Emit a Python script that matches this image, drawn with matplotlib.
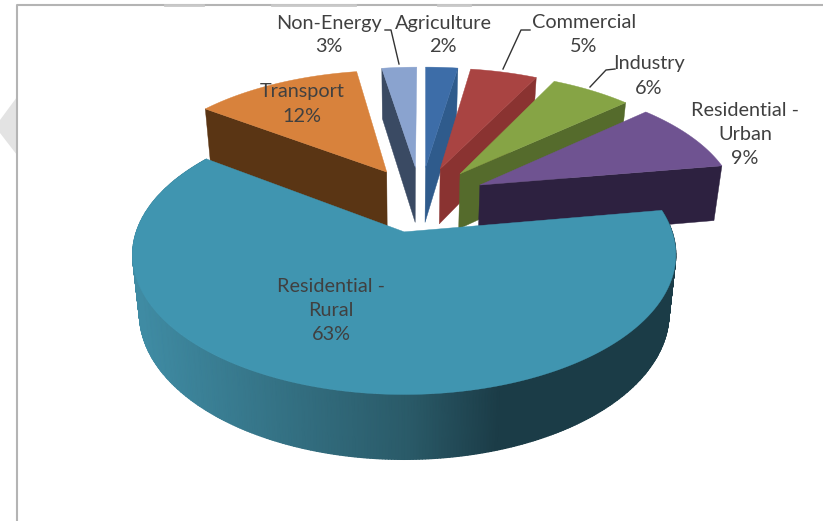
import numpy as np
import matplotlib
matplotlib.use('Agg')
import matplotlib.pyplot as plt
from matplotlib.colors import LinearSegmentedColormap

plt.rcParams['font.family'] = ['Lato', 'DejaVu Sans']

# Data, clockwise from 12 o'clock. Labels show them rounded
categories = ['Agriculture', 'Commercial', 'Industry', 'Residential -\nUrban',
              'Residential -\nRural', 'Transport', 'Non-Energy']
shares = [2.4, 5, 6, 9, 62.6, 12.4, 2.6]

top_colors = ['#3d6da8', '#a94442', '#86a445', '#6f5391', '#4095b0', '#d8823c', '#8aa3cf']
side_colors = ['#2f5b8c', '#8a3331', '#556b2c', '#2d2140', '#2a5a68', '#5a3514', '#3a4a63']
rim_colors = ['#3f8ba3', '#2a5a68', '#1b3c47']

# Label centres, pixels
label_x = [443, 584, 649, 745, 331, 302, 329]
label_y = [35, 35, 76, 134, 310, 104, 35]

# Leader lines
leaders = [
    ([385, 391, 399], [30, 30, 64]),
    ([530, 521, 503], [30, 30, 69]),
    ([615, 606, 590], [69, 70, 87]),
]

# Perspective set up, fitted by eye
CX, CY = 405, 232
A, B, K = 268, 136, 0.164
PIE_CENTRE = np.array([0.057, 0.254])
EXPLODE = 0.26
SHEAR = 0.025
RURAL = 4


def project(x, y, shear=0.0):
    s = 1 / (1 + K * y)
    py = CY - B * y * s
    return CX + A * x * s + shear * (CY - py), py


def drop(px, py):
    # where a point on the top face lands on the bottom face
    return CX + (px - CX) * 0.975, py + 52 + 0.045 * (py - 105)


def wedge(start, end, shear, n=400):
    # start, end in percent clockwise from the top
    a0, a1 = np.radians(start * 3.6), np.radians(end * 3.6)
    mid = (a0 + a1) / 2
    tip = PIE_CENTRE + EXPLODE * np.array([np.sin(mid), np.cos(mid)])
    t = np.linspace(a0, a1, n)
    arc_x, arc_y = project(tip[0] + np.sin(t), tip[1] + np.cos(t), shear)
    tx, ty = project(tip[0], tip[1], shear)
    return tx, ty, arc_x, arc_y


def side_face(x0, y0, x1, y1, color):
    bx0, by0 = drop(x0, y0)
    bx1, by1 = drop(x1, y1)
    ax.fill([x0, x1, bx1, bx0], [y0, y1, by1, by0], color=color, lw=0.3)


fig = plt.figure(figsize=(8.23, 5.21), dpi=100)
ax = fig.add_axes([0, 0, 1, 1])
ax.set_xlim(0, 823)
ax.set_ylim(521, 0)
ax.axis('off')

# Background bits: grey mark on the left and the chart frame
ax.fill([0, 17, 17, 0], [120, 97, 155, 133], color='#e3e3e3', lw=0)
ax.plot([17, 17, 823], [521, 5, 5], color='#b4b4b4', lw=1.5)
for x0, x1 in [(165, 203), (272, 355), (438, 470)]:
    ax.plot([x0, x1], [4.5, 4.5], color='#c8c8c8', lw=2)

edges = np.concatenate([[0], np.cumsum(shares)])
rim_cmap = LinearSegmentedColormap.from_list(
    'rim', [(0, rim_colors[0]), (0.75, rim_colors[1]), (1, rim_colors[2])], N=1024)

# Back slices first, the rural slice goes on top of everything
for i in [5, 6, 0, 1, 2, 3, 4]:
    shear = 0.0 if i == RURAL else SHEAR
    tx, ty, arc_x, arc_y = wedge(edges[i], edges[i + 1], shear)
    if i in (5, 6):
        # left cut face shows
        side_face(tx, ty, arc_x[0], arc_y[0], side_colors[i])
    elif i == RURAL:
        # outer rim with a left to right shade
        bx, by = drop(arc_x, arc_y)
        shade = np.clip((arc_x - 140) / (500 - 140), 0, 1)
        ax.pcolormesh(np.vstack([arc_x, bx]), np.vstack([arc_y, by]),
                      np.vstack([shade, shade]), cmap=rim_cmap, vmin=0, vmax=1,
                      shading='gouraud')
    else:
        # right cut face shows
        side_face(tx, ty, arc_x[-1], arc_y[-1], side_colors[i])
    ax.fill(np.r_[tx, arc_x], np.r_[ty, arc_y], color=top_colors[i], lw=0.3)

for lx, ly in leaders:
    ax.plot(lx, ly, color='#333333', lw=1)

for i, name in enumerate(categories):
    ax.text(label_x[i], label_y[i], f'{name}\n{round(shares[i])}%', ha='center', va='center',
            fontsize=14.3, color='#404040', linespacing=1.5)

fig.savefig('out.png', dpi=100)
